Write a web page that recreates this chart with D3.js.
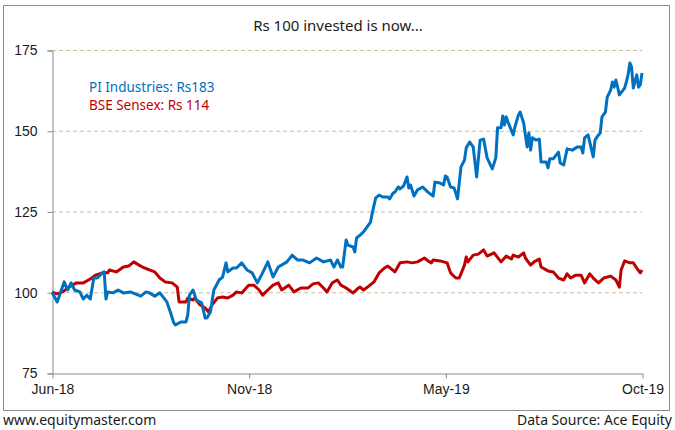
<!DOCTYPE html>
<html>
<head>
<meta charset="utf-8">
<script src="https://cdn.jsdelivr.net/npm/d3@7"></script>
<style>
  body { margin: 0; background: #fff; }
  svg { font-family: "Noto Sans", sans-serif; }
</style>
</head>
<body>
<svg id="chart"></svg>
<script>
// Rs 100 invested in Jun-18, trading-day index vs value
const piDays = [0,3,7,9,11,13,16,18,20,22,24,26,29,30,31,32,35,38,41,45,51,54,56,59,62,66,68,70,71,74,77,78,79,81,83,86,88,89,91,93,96,98,100,101,104,106,109,112,115,118,121,124,127,130,135,138,141,144,148,152,156,160,162,164,166,167,169,170,173,174,175,177,179,181,183,184,186,188,190,193,194,196,197,199,200,202,204,205,206,208,210,213,216,219,220,223,225,226,227,229,231,232,233,235,237,238,240,242,244,246,248,250,253,255,256,258,259,260,261,262,265,266,268,269,271,273,274,275,276,278,280,281,284,285,286,288,291,292,294,296,299,302,304,305,306,308,311,312,314,315,316,318,319,321,322,323,324,325,326,329,330,331,332,333,334,336,337,338,339];
const piValues = [100,97.0,103.2,100.7,102.9,100.7,100.1,97.9,99.1,97.9,104.4,104.4,106.0,106.3,97.9,100.1,99.8,100.7,99.8,100.1,98.8,100.1,99.8,98.8,99.8,97.0,93.9,90.5,89.9,90.8,90.8,93.0,99.1,100.7,97.6,96.7,92.0,92.0,93.9,100.7,103.8,104.7,109.1,106.3,107.5,107.5,109.1,106.9,106.0,102.9,106.0,109.4,104.7,107.8,109.4,111.5,110.0,110.0,109.1,110.6,109.4,110.0,107.8,110.0,107.8,107.8,116.2,114.6,114.0,112.5,116.8,117.7,118.7,120.2,121.7,124.5,129.2,130.1,129.5,129.5,128.9,130.7,131.0,132.6,132.0,132.9,135.7,132.3,133.2,129.8,131.7,132.6,131.0,129.8,134.1,133.8,133.2,136.0,135.7,132.6,132.3,130.7,128.9,138.8,140.9,144.7,146.5,145.0,135.7,147.1,147.4,141.6,138.2,141.6,150.9,150.9,154.6,151.8,154.3,152.7,148.7,151.2,154.9,155.8,152.4,145.0,149.3,144.0,147.8,147.1,147.4,140.3,140.3,138.5,141.3,141.3,143.4,140.0,139.4,144.4,144.0,145.0,145.0,143.1,147.8,148.7,141.9,147.1,148.7,149.3,154.3,155.8,160.4,162.6,165.1,163.5,165.7,163.5,161.1,163.2,165.1,167.3,171.0,169.7,163.2,167.3,163.5,164.2,167.9];

const bseDays = [0,3,6,10,14,18,22,25,29,32,33,37,41,44,47,50,52,56,59,62,65,69,72,73,77,78,81,82,85,88,90,92,95,98,101,104,106,109,113,116,119,121,124,127,130,132,136,139,143,147,150,153,156,158,161,164,166,169,173,176,177,179,182,185,188,191,193,197,200,204,207,210,214,216,218,219,223,227,229,232,234,237,238,239,242,245,248,250,254,258,261,264,265,268,271,272,275,277,280,281,285,288,291,294,296,298,301,304,306,309,311,314,317,321,324,326,327,329,332,334,336,338,339];
const bseValues = [100,99.5,100.1,101.6,102.9,102.9,104.1,105.3,106.0,106.0,106.9,106.3,107.8,108.1,109.4,108.4,107.8,106.9,106.3,104.4,103.2,102.9,101.6,97.0,97.0,98.2,97.6,98.2,96.1,95.1,93.9,96.1,98.2,98.5,98.2,99.1,100.1,99.8,102.2,102.2,100.7,99.1,100.7,102.2,102.9,100.7,102.2,100.1,101.3,101.3,102.6,102.9,101.3,100.1,102.9,103.8,102.2,101.3,99.8,101.3,101.6,100.7,101.9,103.2,106.0,107.5,108.1,106.3,109.1,109.4,109.1,109.4,110.6,109.7,109.1,110.0,109.7,109.1,106.0,104.4,104.4,108.4,110.9,109.4,111.5,111.8,113.1,111.2,112.2,109.4,111.2,110.3,111.5,110.9,112.2,110.6,108.4,109.4,110.3,107.8,106.6,106.3,104.4,103.8,105.7,104.4,105.3,105.3,102.9,105.7,104.4,102.9,104.4,105.0,103.8,101.6,106.9,109.7,109.1,109.1,107.5,106.0,106.9];

const totalDays = 339;
const xTickDays = [0, 113, 226, 339];
const xTickLabels = ["Jun-18", "Nov-18", "May-19", "Oct-19"];
const yTicks = [75, 100, 125, 150, 175];

const width = 675;
const height = 430;
const margin = { top: 50, right: 33, bottom: 57, left: 52 };

const svg = d3.select("#chart")
  .attr("width", width)
  .attr("height", height);

// outer frame
svg.append("rect")
  .attr("x", 3.5).attr("y", 5.5)
  .attr("width", 666).attr("height", 405)
  .attr("fill", "none")
  .attr("stroke", "#8c8c8c")
  .attr("stroke-width", 1);

const xScale = d3.scaleLinear()
  .domain([0, totalDays])
  .range([margin.left, width - margin.right]);

const yScale = d3.scaleLinear()
  .domain([75, 175])
  .range([height - margin.bottom, margin.top]);

// gridlines
svg.append("g")
  .selectAll("line")
  .data(yTicks.filter(d => d !== 75))
  .enter()
  .append("line")
  .attr("x1", margin.left)
  .attr("x2", width - margin.right)
  .attr("y1", d => yScale(d) + 0.5)
  .attr("y2", d => yScale(d) + 0.5)
  .attr("stroke", "#c9bf9f")
  .attr("stroke-dasharray", "4,3");

// y axis
const yAxis = d3.axisLeft(yScale).tickValues(yTicks).tickSize(5).tickPadding(10);
svg.append("g")
  .attr("transform", "translate(" + (margin.left + 0.5) + ",0.5)")
  .call(yAxis)
  .call(g => g.select(".domain").attr("stroke", "#8c8c8c"))
  .call(g => g.selectAll(".tick line").attr("stroke", "#8c8c8c"))
  .call(g => g.selectAll(".tick text").attr("fill", "#1a1a1a").style("font-size", "14px"));

// x axis
const xAxis = d3.axisBottom(xScale)
  .tickValues(xTickDays)
  .tickFormat((d, i) => xTickLabels[i])
  .tickSize(5).tickPadding(6).tickSizeOuter(0);
svg.append("g")
  .attr("transform", "translate(0.5," + (height - margin.bottom + 0.5) + ")")
  .call(xAxis)
  .call(g => g.select(".domain").attr("stroke", "#8c8c8c"))
  .call(g => g.selectAll(".tick line").attr("stroke", "#8c8c8c"))
  .call(g => g.selectAll(".tick text").attr("fill", "#1a1a1a").style("font-size", "14px"));

const line = d3.line()
  .x(d => xScale(d[0]))
  .y(d => yScale(d[1]));

svg.append("path")
  .datum(bseDays.map((d, i) => [d, bseValues[i]]))
  .attr("fill", "none")
  .attr("stroke", "#c00000")
  .attr("stroke-width", 3)
  .attr("stroke-linejoin", "round")
  .attr("d", line);

svg.append("path")
  .datum(piDays.map((d, i) => [d, piValues[i]]))
  .attr("fill", "none")
  .attr("stroke", "#0070c0")
  .attr("stroke-width", 3)
  .attr("stroke-linejoin", "round")
  .attr("d", line);

// title
svg.append("text")
  .attr("x", 338).attr("y", 31)
  .attr("text-anchor", "middle")
  .style("font-size", "15px")
  .attr("fill", "#1a1a1a")
  .text("Rs 100 invested is now...");

// legend
svg.append("text")
  .attr("x", 89).attr("y", 92)
  .style("font-size", "13.5px")
  .attr("fill", "#0070c0")
  .text("PI Industries: Rs183");
svg.append("text")
  .attr("x", 89).attr("y", 110)
  .style("font-size", "13.5px")
  .attr("fill", "#c00000")
  .text("BSE Sensex: Rs 114");

// footer
svg.append("text")
  .attr("x", 3).attr("y", 425)
  .style("font-size", "14px")
  .attr("fill", "#1a1a1a")
  .text("www.equitymaster.com");
svg.append("text")
  .attr("x", 672).attr("y", 425)
  .attr("text-anchor", "end")
  .style("font-size", "14px")
  .attr("fill", "#1a1a1a")
  .text("Data Source: Ace Equity");
</script>
</body>
</html>
